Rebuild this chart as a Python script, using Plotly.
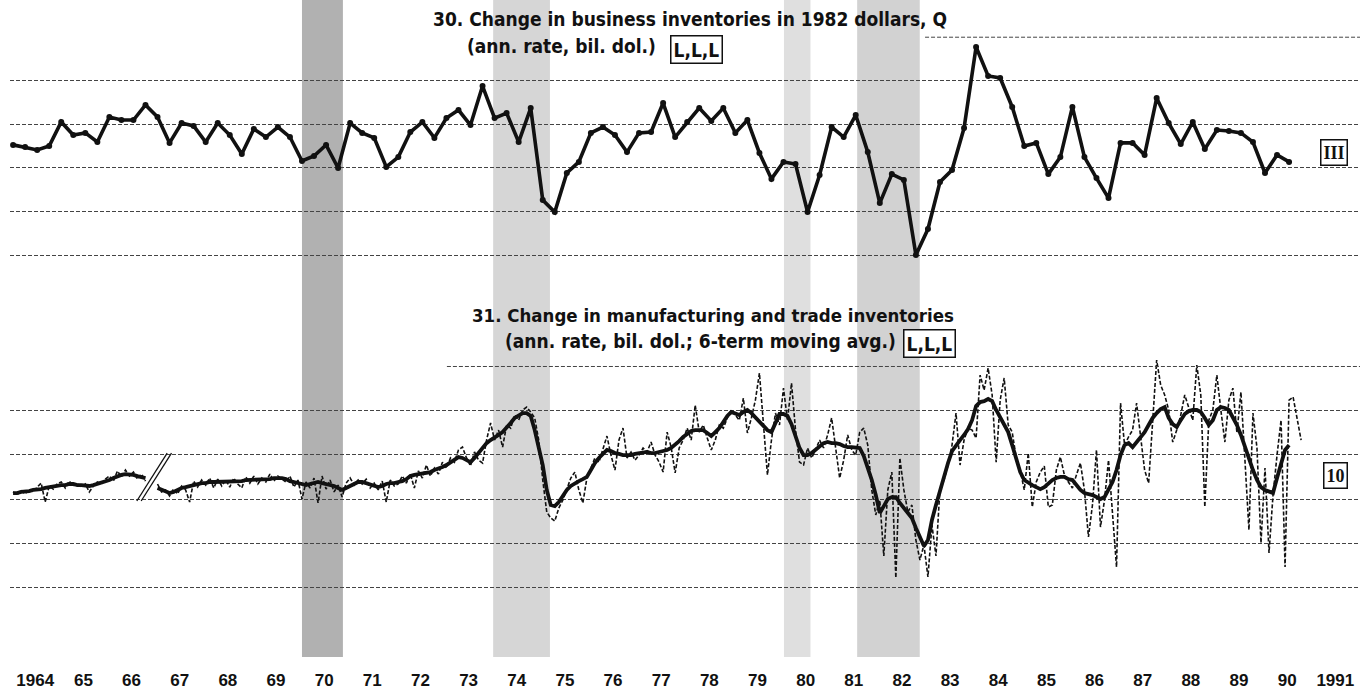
import pandas as pd
import plotly.graph_objects as go

# 30. Change in business inventories in 1982 dollars, quarterly (ann. rate, bil. dol.)
bi_1982 = [
    10.6, 9.6, 8.3, 10.1,      # 1964
    21.1, 15.1, 16.1, 11.9,    # 1965
    23.4, 22.0, 22.0, 28.9,    # 1966
    23.4, 11.5, 20.6, 19.3,    # 1967
    11.9, 20.6, 15.1, 6.4,     # 1968
    17.9, 14.2, 18.8, 14.2,    # 1969
    3.2, 5.5, 10.6, 0.0,       # 1970
    20.6, 16.1, 13.8, 0.5,     # 1971
    5.0, 16.5, 21.1, 13.8,     # 1972
    22.9, 26.6, 19.7, 37.6,    # 1973
    22.9, 25.2, 11.9, 27.5,    # 1974
    -14.7, -20.2, -2.3, 2.8,   # 1975
    16.1, 18.8, 15.1, 7.3,     # 1976
    16.1, 16.5, 29.8, 14.2,    # 1977
    21.1, 27.5, 21.6, 27.5,    # 1978
    16.1, 22.0, 6.9, -5.0,     # 1979
    2.8, 1.8, -20.2, -3.2,     # 1980
    18.8, 14.2, 24.3, 7.3,     # 1981
    -16.1, -2.8, -5.5, -39.9,  # 1982
    -28.0, -6.4, -0.9, 18.3,   # 1983
    55.5, 42.2, 41.3, 28.0,    # 1984
    10.1, 11.5, -2.8, 5.0,     # 1985
    28.0, 5.0, -4.6, -13.8,    # 1986
    11.5, 11.5, 6.0, 32.1,     # 1987
    20.6, 11.0, 21.1, 8.7,     # 1988
    17.4, 17.0, 16.1, 11.9,    # 1989
    -2.3, 6.0, 2.8,            # 1990
]

# 31. Change in mfg and trade inventories, monthly (ann. rate, bil. dol.)
mt_monthly = [
    3.2, 1.8, 4.1, 2.3, 4.5, 3.2, 5.4, 7.2, -1.4, 5.9, 4.5, 6.8,            # 1964
    7.7, 5.0, 8.1, 5.9, 7.2, 5.4, 6.8, 3.2, 5.9, 7.7, 6.8, 9.0,             # 1965
    10.4, 8.1, 12.7, 10.0, 13.1, 10.4, 12.2, 9.0, 11.3, 8.1, None, None,    # 1966
    6.8, 3.2, 4.1, 1.4, 4.5, 2.3, 5.9, 4.1, -1.4, 8.1, 5.4, 8.6,            # 1967
    6.3, 9.5, 5.0, 9.0, 5.9, 8.6, 5.4, 9.5, 6.8, 5.0, 10.0, 7.2,            # 1968
    10.4, 6.8, 9.5, 7.7, 11.3, 8.1, 10.4, 9.0, 7.7, 10.4, 5.4, 8.6,         # 1969
    0.0, 7.7, 5.0, 9.5, -1.8, 10.4, 4.5, 8.6, 3.2, 6.3, 0.9, 7.2,           # 1970
    9.5, 6.3, 8.6, 6.8, 9.0, 5.0, 7.2, 4.1, 8.1, -1.4, 8.6, 5.9,            # 1971
    6.8, 10.4, 7.2, 11.3, 5.0, 12.7, 9.5, 15.4, 10.4, 14.0, 11.3, 16.7,     # 1972
    14.0, 18.6, 16.7, 22.2, 23.5, 18.6, 15.0, 21.3, 17.6, 16.3, 26.7, 34.4, # 1973
    26.7, 31.2, 23.5, 33.5, 32.1, 38.0, 35.7, 40.3, 41.6, 39.4, 36.7, 26.7, # 1974
    8.6, -5.9, -8.6, -10.0, -4.1, -0.5, 5.0, 9.5, 12.2, 4.1, -1.8, 9.5,     # 1975
    14.0, 18.6, 16.7, 22.2, 28.5, 19.9, 13.1, 26.7, 32.1, 18.6, 21.3, 17.6, # 1976
    19.9, 23.1, 21.3, 25.8, 19.9, 16.7, 12.2, 30.3, 23.5, 11.8, 23.1, 26.7, # 1977
    32.1, 26.7, 42.5, 30.3, 33.5, 27.6, 22.2, 26.7, 33.5, 32.1, 36.7, 40.3, # 1978
    38.0, 35.7, 45.7, 29.9, 36.7, 44.8, 57.0, 35.7, 10.9, 26.7, 38.9, 33.5, # 1979
    50.2, 35.7, 52.5, 31.2, 16.7, 15.4, 23.1, 18.6, 22.2, 26.7, 23.1, 29.0, # 1980
    36.7, 23.1, 9.5, 17.6, 29.0, 22.2, 19.9, 30.3, 32.1, 24.4, 4.1, -7.2,   # 1981
    -0.5, -25.8, 4.1, 12.2, -35.7, 18.6, 4.1, -5.9, -2.7, -18.6, -27.6, -20.8,  # 1982
    -35.3, -11.8, -25.8, 5.0, 8.6, 15.4, 24.4, 38.9, 15.4, 26.7, 32.1, 31.2,    # 1983
    27.6, 56.1, 49.3, 59.3, 47.1, 16.7, 44.8, 54.8, 33.5, 30.3, 18.6, 13.1,     # 1984
    4.1, 20.8, -3.6, 7.7, 12.2, 14.9, -3.6, -2.7, 13.1, 19.0, 10.9, 7.7,        # 1985
    5.0, 10.9, 16.3, 4.1, -17.2, -2.7, 22.2, -12.7, -0.5, 17.6, -6.3, -30.8,    # 1986
    43.4, 24.4, 28.1, 31.2, 43.4, 26.7, 13.1, 7.2, 35.7, 62.9, 51.6, 47.1,      # 1987
    40.3, 25.8, 31.2, 38.0, 47.1, 41.2, 35.7, 60.6, 47.1, -3.6, 35.7, 40.3,     # 1988
    56.1, 40.3, 25.8, 44.8, 50.2, 29.9, 48.4, 17.6, -14.0, 38.9, 23.1, -19.9,   # 1989
    14.0, -24.4, 1.8, 19.9, 35.7, -30.8, 44.8, 46.2, 35.7, 26.7,                # 1990
]

# 6-term moving average of series 31
mt_ma6 = [
    2.7, 2.7, 3.2, 3.2, 3.6, 4.1, 4.1, 4.5, 5.0, 5.4, 5.4, 5.9,             # 1964
    6.3, 6.3, 6.8, 6.8, 6.3, 6.3, 5.9, 5.9, 6.3, 6.8, 7.2, 7.7,             # 1965
    8.6, 9.5, 10.4, 10.9, 11.3, 11.3, 10.9, 10.4, 10.0, 9.5, None, None,    # 1966
    5.0, 4.1, 3.2, 2.7, 3.2, 4.1, 5.0, 5.4, 5.9, 6.3, 6.8, 7.2,             # 1967
    7.2, 7.7, 7.7, 7.7, 7.7, 7.7, 7.7, 7.7, 8.1, 8.1, 8.6, 8.6,             # 1968
    8.6, 8.6, 9.0, 9.0, 9.0, 9.5, 9.5, 9.5, 9.0, 8.1, 7.7, 7.2,             # 1969
    6.8, 6.3, 6.8, 7.2, 7.7, 7.2, 6.8, 6.3, 5.9, 5.0, 4.1, 5.0,             # 1970
    5.9, 7.2, 7.7, 7.7, 7.2, 6.8, 5.9, 5.4, 5.9, 6.8, 7.2, 7.2,             # 1971
    7.7, 8.1, 9.0, 10.4, 10.9, 11.3, 11.8, 12.2, 12.2, 13.1, 13.6, 14.5,    # 1972
    15.4, 16.7, 18.1, 19.0, 18.6, 17.6, 16.7, 18.6, 20.8, 23.1, 25.3, 26.7, # 1973
    28.1, 29.0, 30.3, 32.1, 34.4, 36.7, 38.0, 38.9, 38.9, 37.6, 31.2, 23.1, # 1974
    15.4, 4.1, -2.7, -3.2, -1.4, 1.4, 4.1, 5.9, 7.2, 8.1, 9.0, 10.0,        # 1975
    13.1, 16.3, 18.6, 20.4, 22.2, 21.7, 20.8, 20.4, 19.9, 19.9, 19.9, 20.4, # 1976
    20.8, 21.3, 21.3, 20.8, 20.8, 21.3, 21.7, 22.2, 23.1, 24.4, 26.2, 28.1, # 1977
    29.4, 30.8, 31.2, 31.2, 31.2, 29.9, 28.5, 30.3, 32.1, 34.8, 37.6, 39.4, # 1978
    38.9, 38.0, 39.4, 40.3, 38.9, 37.1, 35.3, 33.0, 31.2, 30.3, 34.8, 38.5, # 1979
    38.5, 37.6, 33.9, 28.5, 23.1, 19.9, 19.9, 20.8, 22.2, 23.5, 25.3, 25.8, # 1980
    25.3, 25.3, 24.9, 24.0, 23.5, 23.5, 23.5, 23.1, 19.5, 14.5, 8.6, 1.8,   # 1981
    -6.3, -3.2, 0.0, 0.9, 0.9, -1.8, -4.1, -5.9, -8.6, -13.1, -17.6, -21.3, # 1982
    -18.6, -9.5, -2.7, 4.1, 9.5, 16.3, 21.7, 24.4, 26.7, 29.0, 31.7, 35.7,  # 1983
    42.1, 43.9, 44.3, 45.3, 44.3, 40.3, 37.1, 33.9, 30.3, 24.4, 17.6, 12.2, # 1984
    8.6, 7.2, 6.3, 5.4, 4.5, 5.4, 7.2, 8.6, 9.5, 10.0, 10.0, 9.0,           # 1985
    8.6, 6.3, 4.1, 2.7, 2.3, 1.8, 0.9, 0.0, 0.9, 4.1, 7.7, 13.1,            # 1986
    19.9, 24.4, 25.3, 23.5, 25.8, 28.1, 30.3, 33.5, 36.7, 38.9, 40.7, 41.6, # 1987
    36.7, 33.9, 32.6, 35.7, 38.5, 39.8, 40.3, 40.3, 39.4, 36.7, 33.5, 35.7, # 1988
    40.3, 41.6, 41.2, 40.3, 37.1, 33.5, 29.0, 23.5, 18.6, 13.1, 8.6, 5.4,   # 1989
    4.1, 3.2, 2.7, 9.5, 16.3, 22.2, 24.4,                                   # 1990
]

# recessions (peak, trough) in decimal years
recessions = [(1970.0, 1970.85), (1973.97, 1975.15), (1980.01, 1980.56), (1981.53, 1982.83)]
rec_fill = ['rgba(100,100,100,0.50)', 'rgba(130,130,130,0.33)',
            'rgba(140,140,140,0.28)', 'rgba(130,130,130,0.36)']

years = list(range(1964, 1992))
year_labels = ['1964'] + [str(y)[2:] for y in years[1:-1]] + ['1991']
grid_vals = [-40, -20, 0, 20, 40]


def dec_year(periods):
    return [p.year + (p.month - 1) / 12 for p in periods.to_timestamp()]


q_x = dec_year(pd.period_range('1964Q1', periods=len(bi_1982), freq='Q'))
m_x = dec_year(pd.period_range('1964-01', periods=len(mt_monthly), freq='M'))
ma_x = dec_year(pd.period_range('1964-01', periods=len(mt_ma6), freq='M'))

fig = go.Figure()
fig.add_trace(go.Scatter(x=q_x, y=bi_1982, mode='lines+markers', yaxis='y', xaxis='x',
                         line=dict(color='#111', width=3.6),
                         marker=dict(size=6, color='#111')))
fig.add_trace(go.Scatter(x=m_x, y=mt_monthly, mode='lines', yaxis='y2', xaxis='x',
                         line=dict(color='#111', width=1.6, dash='4px,2px')))
fig.add_trace(go.Scatter(x=ma_x, y=mt_ma6, mode='lines', yaxis='y2', xaxis='x',
                         line=dict(color='#111', width=3.8)))

shapes = []
for (a, b), c in zip(recessions, rec_fill):
    shapes.append(dict(type='rect', xref='x', yref='paper', x0=a, x1=b, y0=0.0165, y1=1,
                       fillcolor=c, line_width=0, layer='below'))
# top partial gridlines (to the right of the titles)
shapes.append(dict(type='line', xref='x', yref='y', x0=1982.94, x1=1991.973, y0=60, y1=60,
                   line=dict(color='#444', width=1, dash='4px,2px')))
shapes.append(dict(type='line', xref='x', yref='y2', x0=1973.01, x1=1991.973, y0=60, y1=60,
                   line=dict(color='#444', width=1, dash='4px,2px')))
# series break marker "//"
for dx in (0.0, 0.09):
    shapes.append(dict(type='line', xref='x', yref='y2', x0=1966.57 + dx, x1=1967.2 + dx,
                       y0=-0.9, y1=20.8, line=dict(color='#111', width=1.3)))

title_font = dict(family='DejaVu Sans Condensed, Arial Narrow, sans-serif',
                  size=19, color='#111')
box_font = dict(family='Liberation Serif, serif', size=18, color='#111')


def px(xp, yp):
    return (xp - 10) / 1350, 1 - yp / 668


annotations = []
for text, xp, yp, sz in [
    ('<b>30. Change in business inventories in 1982 dollars, Q</b>', 431, 19, 19),
    ('<b>(ann. rate, bil. dol.)</b>', 465, 46, 19),
    ('<b>31. Change in manufacturing and trade inventories</b>', 470, 315, 18.5),
    ('<b>(ann. rate, bil. dol.; 6-term moving avg.)</b>', 503, 341, 19),
]:
    fx, fy = px(xp, yp)
    annotations.append(dict(text=text, x=fx, y=fy, xref='paper', yref='paper',
                            xanchor='left', yanchor='middle', showarrow=False,
                            font=dict(title_font, size=sz)))
for text, xp, yp, fnt in [
    ('<b>L,L,L</b>', 696, 50, title_font),
    ('<b>L,L,L</b>', 929, 344, title_font),
    ('<b>III</b>', 1334, 152, box_font),
    ('<b>10</b>', 1335, 476, box_font),
]:
    fx, fy = px(xp, yp)
    annotations.append(dict(text=text, x=fx, y=fy, xref='paper', yref='paper',
                            xanchor='center', yanchor='middle', showarrow=False, font=fnt,
                            bordercolor='#111', borderwidth=1.5, borderpad=2, bgcolor='white'))

grid = dict(showticklabels=False, showgrid=True, gridcolor='#444', gridwidth=1,
            griddash='4px,2px', zeroline=False, showline=False, ticks='', tickvals=grid_vals)

fig.update_layout(
    width=1360, height=697, template='plotly_white', showlegend=False,
    paper_bgcolor='white', plot_bgcolor='white',
    margin=dict(l=10, r=0, t=0, b=29),
    xaxis=dict(range=[1963.936, 1991.973], anchor='y2', showgrid=False, zeroline=False,
               showline=False, ticks='', tickvals=[y + 0.46 for y in years], ticktext=year_labels,
               tickfont=dict(family='Liberation Sans, Arial, sans-serif', size=17, color='#111',
                             weight='bold')),
    yaxis=dict(domain=[0.58084, 0.99251], range=[-51.38, 74.77], anchor='x', **grid),
    yaxis2=dict(domain=[0, 0.46856], range=[-76.5, 65.2], anchor='x', **grid),
    shapes=shapes, annotations=annotations,
)

# drop the page's default body margin so the figure sits at the window's corner
fig.write_html('out.html', config={'displayModeBar': False},
               post_script="document.body.style.margin='0';")
